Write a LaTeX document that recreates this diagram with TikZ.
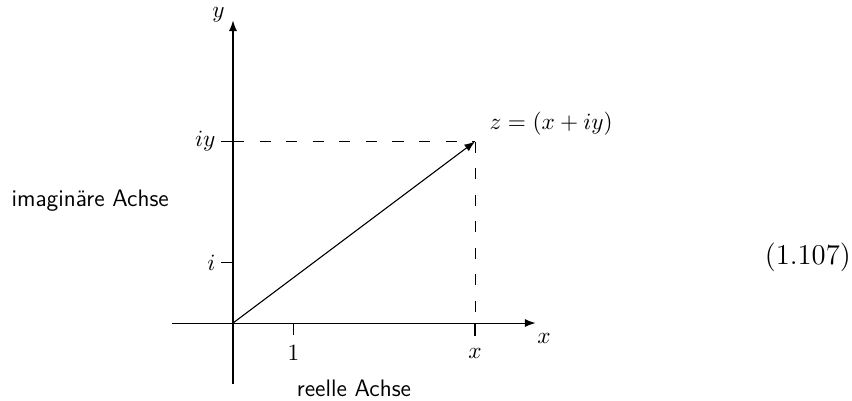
\documentclass[tikz,border=0pt]{standalone}
\usetikzlibrary{arrows.meta}
\begin{document}
\begin{tikzpicture}[
  font=\fontsize{11.2}{13}\selectfont,
  axis/.style={line width=0.5pt,-{Latex[length=5pt,width=3.8pt]}},
  guide/.style={line width=0.45pt,dash pattern=on 5.2pt off 7.3pt},
  tickline/.style={line width=0.5pt},
  lbl/.style={inner sep=1pt},
  sanslbl/.style={inner sep=1pt,font=\fontsize{11.2}{13}\selectfont\sffamily},
]
\useasboundingbox (-3.851,-1.273) rectangle (10.231,5.339);
% named coordinates
\coordinate (O) at (0,0);
\coordinate (xl) at (-1,0);
\coordinate (xr) at (5,0);
\coordinate (yb) at (0,-1);
\coordinate (yt) at (0,5);
\coordinate (P) at (4,3);
\coordinate (Px) at (4,0);
\coordinate (Py) at (0,3);
\coordinate (P1) at (1,0);
\coordinate (Pi) at (0,1);
\coordinate (t1) at (1,-0.19);
\coordinate (t4) at (4,-0.22);
\coordinate (ti) at (-0.2,1);
\coordinate (tiy) at (-0.2,3);
% axes
\draw[axis] (xl) -- (xr);
\draw[axis] (yb) -- (yt);
% dashed guides
\draw[guide] (Py) -- (P);
\draw[guide] (P) -- (Px);
\draw[guide] (O) -- (Px);
\draw[guide] (O) -- (Py);
% ticks
\draw[tickline] (P1) -- (t1);
\draw[tickline] (Px) -- (t4);
\draw[tickline] (Pi) -- (ti);
\draw[tickline] (Py) -- (tiy);
% vector
\draw[axis] (O) -- (P);
% labels
\node[lbl,anchor=east] (li) at ([xshift=-0.05cm]ti) {$i$};
\node[lbl,anchor=east] (liy) at ([xshift=-0.05cm]tiy) {$iy$};
\node[lbl] (l1) at (1,-0.5) {$1$};
\node[lbl] (lx) at (4,-0.5) {$x$};
\node[lbl] (lxa) at (5.14,-0.25) {$x$};
\node[lbl] (lya) at (-0.24,5.1) {$y$};
\node[lbl,anchor=west] (lz) at (4.2,3.3) {$z=(x+iy)$};
\node[sanslbl] (lim) at (-2.36,2.03) {imagin\"are Achse};
\node[sanslbl] (lre) at (2.0,-1.08) {reelle Achse};
\node[font=\fontsize{13.5}{16}\selectfont] (eq) at (9.5,1.08) {(1.107)};
\end{tikzpicture}
\end{document}
